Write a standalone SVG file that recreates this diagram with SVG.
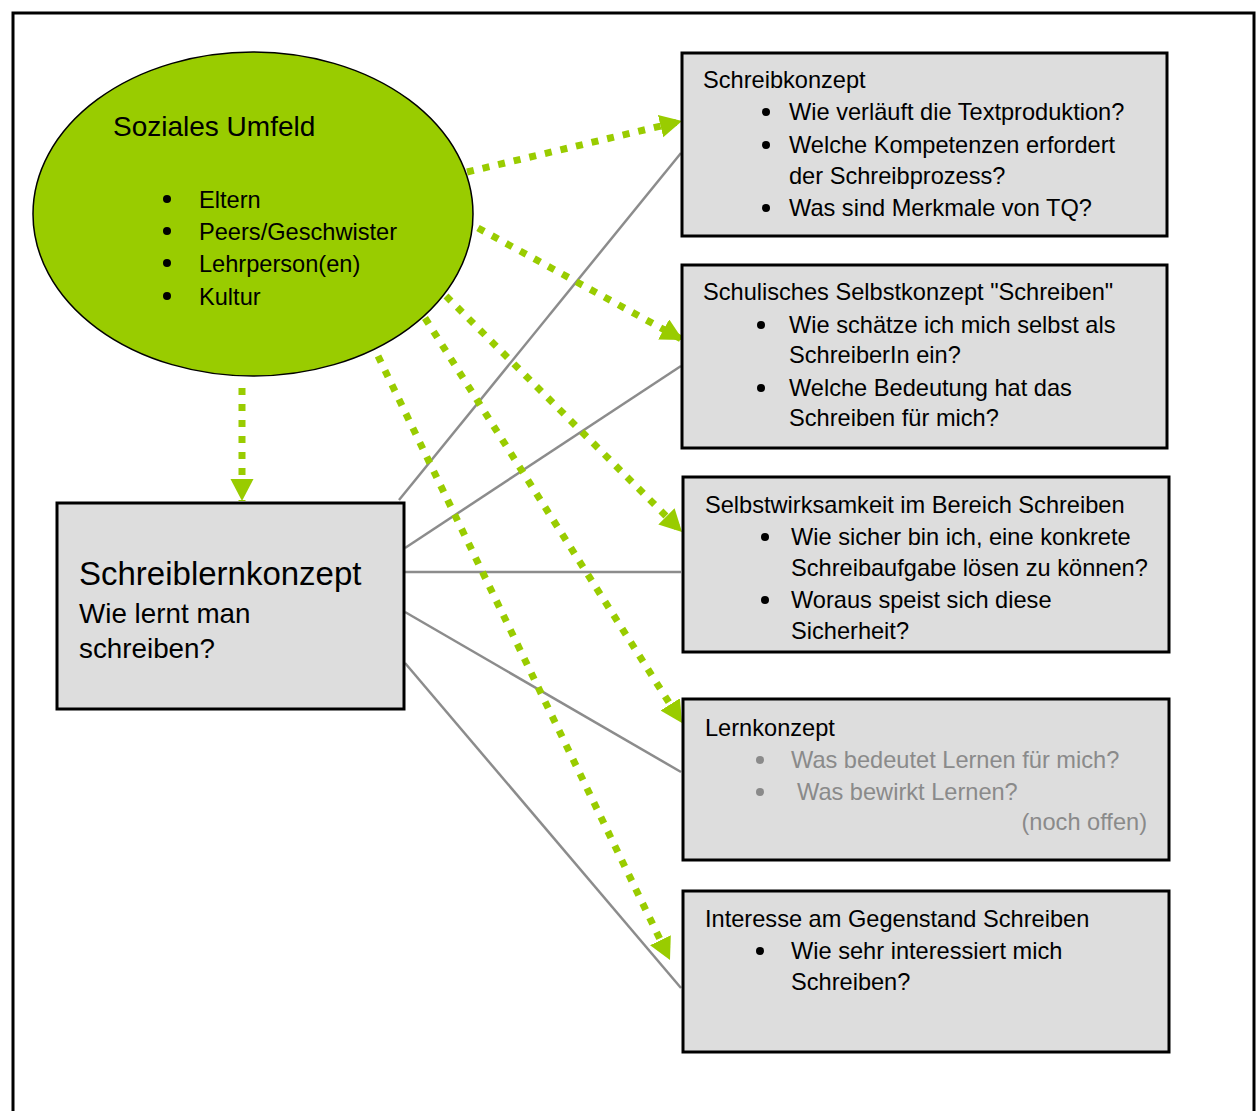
<svg xmlns="http://www.w3.org/2000/svg" width="1259" height="1111" viewBox="0 0 1259 1111">
<style>
text{font-family:"Liberation Sans Narrow","Arial Narrow","Liberation Sans",sans-serif;fill:#000}
.t{font-size:23.6px}
.g{fill:#8a8a8a}
.box{fill:#DDDDDD;stroke:#000;stroke-width:3}
.gl{stroke:#8c8c8c;stroke-width:2.5;fill:none}
.da{stroke:#99CC00;stroke-width:7;stroke-dasharray:7 9;fill:none;marker-end:url(#ah)}
</style>
<defs>
<marker id="ah" markerUnits="userSpaceOnUse" markerWidth="24" markerHeight="24" refX="22" refY="11.5" orient="auto">
<path d="M0,0 L22,11.5 L0,23 Z" fill="#99CC00"/>
</marker>
</defs>
<rect x="13" y="13" width="1241" height="1110" fill="#fff" stroke="#000" stroke-width="3"/>

<g id="connectors">
<line class="gl" x1="399" y1="500" x2="681" y2="153"/>
<line class="gl" x1="405" y1="548" x2="681" y2="366"/>
<line class="gl" x1="405" y1="572" x2="681" y2="572"/>
<line class="gl" x1="405" y1="612" x2="681" y2="772"/>
<line class="gl" x1="405" y1="663" x2="681" y2="988"/>
<line class="da" x1="467" y1="172" x2="682" y2="121"/>
<line class="da" x1="478" y1="228" x2="683" y2="340"/>
<line class="da" x1="446" y1="296" x2="682" y2="532"/>
<line class="da" x1="425" y1="318" x2="682" y2="723"/>
<line class="da" x1="378" y1="356" x2="670" y2="960"/>
<line class="da" x1="242" y1="388" x2="242" y2="501"/>
</g>

<g id="soziales-umfeld">
<ellipse cx="253" cy="214" rx="220" ry="162" fill="#99CC00" stroke="#000" stroke-width="1.5"/>
<text x="113" y="136" style="font-size:28px">Soziales Umfeld</text>
<circle cx="167" cy="199" r="4"/><text class="t" x="199" y="208">Eltern</text>
<circle cx="167" cy="231" r="4"/><text class="t" x="199" y="240">Peers/Geschwister</text>
<circle cx="167" cy="263" r="4"/><text class="t" x="199" y="272">Lehrperson(en)</text>
<circle cx="167" cy="296" r="4"/><text class="t" x="199" y="305">Kultur</text>
</g>

<g id="schreiblernkonzept">
<rect class="box" x="57" y="503" width="347" height="206"/>
<text x="79" y="585" style="font-size:33px">Schreiblernkonzept</text>
<text x="79" y="623" style="font-size:27.8px">Wie lernt man</text>
<text x="79" y="658" style="font-size:27.8px">schreiben?</text>
</g>

<g id="schreibkonzept">
<rect class="box" x="682" y="53" width="485" height="183"/>
<text class="t" x="703" y="88">Schreibkonzept</text>
<circle cx="766" cy="112" r="4"/><text class="t" x="789" y="120">Wie verläuft die Textproduktion?</text>
<circle cx="766" cy="145" r="4"/><text class="t" x="789" y="153">Welche Kompetenzen erfordert</text>
<text class="t" x="789" y="184">der Schreibprozess?</text>
<circle cx="766" cy="208" r="4"/><text class="t" x="789" y="216">Was sind Merkmale von TQ?</text>
</g>

<g id="selbstkonzept">
<rect class="box" x="682" y="265" width="485" height="183"/>
<text class="t" x="703" y="300">Schulisches Selbstkonzept "Schreiben"</text>
<circle cx="761" cy="325" r="4"/><text class="t" x="789" y="333">Wie schätze ich mich selbst als</text>
<text class="t" x="789" y="363">SchreiberIn ein?</text>
<circle cx="761" cy="388" r="4"/><text class="t" x="789" y="396">Welche Bedeutung hat das</text>
<text class="t" x="789" y="426">Schreiben für mich?</text>
</g>

<g id="selbstwirksamkeit">
<rect class="box" x="683" y="477" width="486" height="175"/>
<text class="t" x="705" y="513">Selbstwirksamkeit im Bereich Schreiben</text>
<circle cx="765" cy="537" r="4"/><text class="t" x="791" y="545">Wie sicher bin ich, eine konkrete</text>
<text class="t" x="791" y="576">Schreibaufgabe lösen zu können?</text>
<circle cx="765" cy="600" r="4"/><text class="t" x="791" y="608">Woraus speist sich diese</text>
<text class="t" x="791" y="639">Sicherheit?</text>
</g>

<g id="lernkonzept">
<rect class="box" x="683" y="699" width="486" height="161"/>
<text class="t" x="705" y="736">Lernkonzept</text>
<circle cx="760" cy="760" r="4" fill="#8a8a8a"/><text class="t g" x="791" y="768">Was bedeutet Lernen für mich?</text>
<circle cx="760" cy="792" r="4" fill="#8a8a8a"/><text class="t g" x="797" y="800">Was bewirkt Lernen?</text>
<text class="t g" x="1147" y="830" text-anchor="end">(noch offen)</text>
</g>

<g id="interesse">
<rect class="box" x="683" y="891" width="486" height="161"/>
<text class="t" x="705" y="927">Interesse am Gegenstand Schreiben</text>
<circle cx="760" cy="951" r="4"/><text class="t" x="791" y="959">Wie sehr interessiert mich</text>
<text class="t" x="791" y="990">Schreiben?</text>
</g>
</svg>
